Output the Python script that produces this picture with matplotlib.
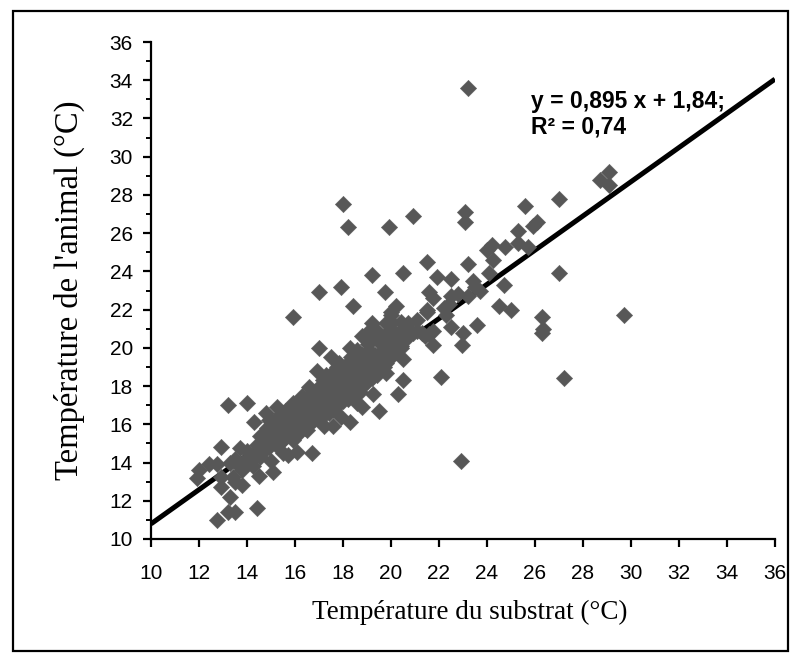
import numpy as np
import matplotlib
matplotlib.use("Agg")
import matplotlib.pyplot as plt
from matplotlib.patches import Rectangle
from matplotlib.ticker import MultipleLocator

# points isolés / bord du nuage
x_outer = [
    23.2, 29.1, 28.7, 29.1, 27.0, 25.6, 26.1, 25.9, 25.3, 25.3,
    25.7, 24.75, 24.7, 27.0, 25.0, 24.5, 26.3, 26.3, 26.35, 29.7,
    27.2, 22.9, 18.0, 18.2, 20.9, 19.9, 23.1, 23.1, 21.5, 23.2,
    19.2, 20.5, 21.9, 22.5, 23.4, 17.9, 17.0, 19.75, 21.6, 24.2,
    24.0, 24.25, 24.1, 21.75, 22.5, 22.8, 23.2, 23.5, 23.7, 20.2,
    20.0, 22.2, 22.4, 21.5, 21.1, 20.4, 20.0, 22.5, 23.6, 23.0,
    22.95, 21.75, 21.4, 21.6, 21.1, 20.5, 20.4, 19.8, 19.8, 20.5,
    20.5, 20.3, 22.1, 18.4, 15.9, 19.2, 19.0, 18.8, 19.8, 17.0,
    18.3, 18.6, 19.1, 19.5, 17.5, 16.9, 17.75, 18.2, 18.6, 19.25,
    19.7, 19.0, 18.4, 17.3, 19.2, 19.8, 17.5, 17.9, 17.0, 16.6,
    18.3, 18.7, 19.25, 16.3, 14.0, 19.5, 14.3, 15.25, 15.5, 15.9,
    16.6, 17.2, 17.6, 18.2, 18.6, 18.8, 17.9, 18.3, 16.75, 16.2,
    15.1, 14.75, 15.7, 16.5, 17.2, 17.6, 13.2, 12.9, 12.0, 11.9,
    12.4, 12.75, 12.9, 13.3, 13.7, 13.5, 13.8, 14.1, 14.4, 14.7,
    14.55, 14.25, 13.4, 12.9, 13.5, 13.8, 14.5, 15.1, 13.3, 13.2,
    13.5, 12.75, 14.4, 14.8, 15.0, 15.5, 15.7, 16.1, 16.7, 14.8,
    15.1, 15.5, 15.9, 15.9, 15.5, 15.8, 16.1, 16.1, 20.0, 21.5,
    22.3, 20.7, 20.5, 20.9, 21.3, 21.75,
]
y_outer = [
    33.6, 29.2, 28.8, 28.5, 27.8, 27.4, 26.6, 26.4, 26.1, 25.5,
    25.3, 25.3, 23.3, 23.9, 22.0, 22.2, 21.6, 20.8, 21.0, 21.7,
    18.4, 14.1, 27.5, 26.3, 26.9, 26.3, 27.1, 26.6, 24.5, 24.4,
    23.8, 23.9, 23.7, 23.6, 23.5, 23.2, 22.9, 22.9, 22.9, 25.4,
    25.1, 24.6, 23.9, 22.6, 22.7, 22.8, 22.7, 23.2, 23.0, 22.2,
    21.9, 22.1, 22.3, 21.9, 21.45, 21.35, 21.35, 21.1, 21.2, 20.8,
    20.15, 20.15, 20.6, 20.7, 20.9, 20.9, 20.0, 20.6, 19.4, 19.4,
    18.3, 17.6, 18.5, 22.2, 21.6, 21.3, 20.8, 20.6, 21.3, 20.0,
    20.0, 19.9, 19.9, 20.3, 19.5, 18.8, 19.0, 19.2, 19.4, 19.5,
    19.0, 18.8, 18.7, 18.6, 18.5, 18.7, 18.2, 17.95, 17.8, 17.95,
    17.6, 17.7, 17.6, 17.5, 17.1, 16.7, 16.1, 16.9, 16.6, 17.1,
    17.3, 17.1, 16.9, 17.3, 17.1, 16.9, 16.4, 16.1, 16.4, 16.2,
    15.9, 15.5, 15.7, 15.7, 15.9, 15.9, 17.0, 14.8, 13.6, 13.2,
    13.9, 13.9, 13.25, 14.0, 14.75, 14.2, 14.0, 14.3, 14.9, 15.1,
    14.3, 13.8, 13.25, 12.7, 13.0, 12.8, 13.3, 13.5, 12.2, 11.4,
    11.4, 11.0, 11.6, 14.7, 14.1, 14.5, 14.4, 14.55, 14.5, 16.6,
    15.7, 15.2, 15.2, 16.1, 16.4, 16.75, 17.0, 15.7, 21.7, 22.0,
    21.7, 21.3, 21.0, 20.8, 20.8, 20.9,
]

# coeur dense du nuage
x_core = [
    14.6, 14.65, 14.55,
    14.9, 14.95, 14.85, 14.9,
    15.2, 15.15, 15.25, 15.2,
    15.4, 15.45, 15.35, 15.4,
    15.6, 15.65, 15.55, 15.6,
    15.8, 15.75, 15.85, 15.8,
    16.0, 16.05, 15.95, 16.0, 16.05,
    16.2, 16.25, 16.15, 16.2,
    16.4, 16.35, 16.45, 16.4,
    16.6, 16.65, 16.55, 16.6, 16.65,
    16.8, 16.85, 16.75, 16.8,
    17.0, 17.05, 16.95, 17.0, 17.05,
    17.2, 17.15, 17.25, 17.2, 17.15,
    17.4, 17.45, 17.35, 17.4, 17.45,
    17.6, 17.55, 17.65, 17.6, 17.55,
    17.8, 17.85, 17.75, 17.8, 17.85,
    18.0, 17.95, 18.05, 18.0, 17.95,
    18.2, 18.25, 18.15, 18.2,
    18.4, 18.35, 18.45, 18.4, 18.35,
    18.6, 18.65, 18.55, 18.6,
    18.8, 18.75, 18.85, 18.8,
    19.0, 19.05, 18.95, 19.0, 19.05,
    19.2, 19.15, 19.25, 19.2,
    19.4, 19.45, 19.35, 19.4,
    19.6, 19.55, 19.65, 19.6,
    19.8, 19.85, 19.75,
    20.0, 19.95, 20.05, 20.0,
    20.2, 20.25, 20.15,
    20.4, 20.35,
    20.6, 20.65,
    13.8, 14.0, 14.2, 14.4, 14.0, 13.6,
]
y_core = [
    14.6, 15.0, 15.4,
    14.8, 15.3, 15.8, 16.2,
    14.9, 15.4, 15.9, 16.3,
    15.1, 15.6, 16.0, 16.5,
    15.3, 15.8, 16.2, 16.7,
    15.5, 15.9, 16.4, 16.9,
    15.4, 15.8, 16.2, 16.6, 17.0,
    15.6, 16.0, 16.5, 16.9,
    15.8, 16.2, 16.6, 17.1,
    16.0, 16.4, 16.8, 17.2, 17.6,
    16.2, 16.6, 17.0, 17.4,
    16.3, 16.7, 17.1, 17.5, 18.0,
    16.5, 16.9, 17.3, 17.7, 18.3,
    16.6, 17.0, 17.4, 17.8, 18.5,
    16.8, 17.2, 17.6, 18.0, 18.7,
    17.0, 17.4, 17.8, 18.3, 19.2,
    17.2, 17.6, 18.0, 18.5, 19.0,
    17.4, 17.9, 18.3, 18.8,
    17.5, 18.1, 18.5, 19.0, 19.5,
    17.8, 18.3, 18.8, 19.2,
    18.0, 18.5, 19.0, 19.6,
    18.2, 18.7, 19.1, 19.7, 20.2,
    18.4, 18.9, 19.3, 20.5,
    18.6, 19.1, 19.6, 20.9,
    18.9, 19.4, 19.9, 20.4,
    19.2, 19.7, 20.2,
    19.5, 20.0, 20.5, 21.0,
    19.8, 20.3, 20.8,
    20.1, 20.6,
    20.4, 20.9,
    13.6, 13.9, 14.2, 14.5, 14.6, 13.9,
]

slope = 0.895
intercept = 1.84
r2 = 0.74
ticks = list(range(10, 37, 2))

x_all = np.array(x_outer + x_core)
y_all = np.array(y_outer + y_core)

fig = plt.figure(figsize=(8.01, 6.64), dpi=100)
ax = fig.add_axes([0.1885, 0.1883, 0.779, 0.7484])

# droite de régression (sous les points)
xs = np.array([10, 36])
ax.plot(xs, slope * xs + intercept, color="black", lw=3.6, zorder=2,
        solid_capstyle="butt")

ax.scatter(x_all, y_all, marker="D", s=70, color="#575757",
           edgecolors="#575757", linewidths=0.3, zorder=3)

ax.set_xlim(10, 36)
ax.set_ylim(10, 36)
ax.set_xticks(ticks)
ax.set_yticks(ticks)
ax.yaxis.set_minor_locator(MultipleLocator(1))

for side in ["top", "right"]:
    ax.spines[side].set_visible(False)
for side in ["left", "bottom"]:
    ax.spines[side].set_linewidth(1.6)

ax.tick_params(axis="both", which="major", direction="out", length=6,
               width=1.6, labelsize=15)
ax.tick_params(axis="x", which="major", pad=12)
ax.tick_params(axis="y", which="major", pad=7)
ax.tick_params(axis="y", which="minor", direction="out", length=3.5,
               width=1.4)
for lab in ax.get_xticklabels() + ax.get_yticklabels():
    lab.set_fontfamily("Liberation Sans")

ax.set_xlabel("Température du substrat (°C)", fontsize=19.5,
              fontfamily="Liberation Serif")
ax.set_ylabel("Température de l'animal (°C)", fontsize=23.5,
              fontfamily="Liberation Serif")
ax.xaxis.set_label_coords(0.511, -0.122)
ax.yaxis.set_label_coords(-0.106, 0.5)

ax.text(25.85, 33.5, f"y = 0,895 x + 1,84;\nR² = {r2:.2f}".replace(".", ","),
        fontsize=16.5, fontweight="bold", fontfamily="Liberation Sans",
        ha="left", va="top", linespacing=1.15, zorder=4)

# cadre autour de la figure
fig.patches.append(Rectangle((13 / 801, 1 - 651 / 664), 775 / 801, 640 / 664,
                             transform=fig.transFigure, fill=False,
                             edgecolor="black", lw=1.6))

fig.savefig("out.png", dpi=100)
